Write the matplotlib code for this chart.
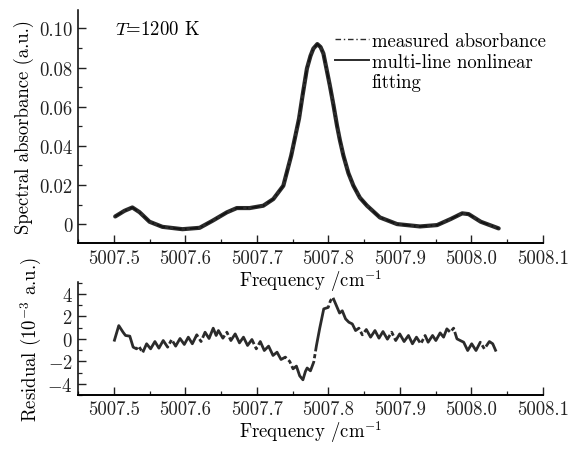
import matplotlib
matplotlib.use('Agg')
import matplotlib.pyplot as plt
from matplotlib.lines import Line2D
from matplotlib.ticker import MultipleLocator

plt.rcParams['font.family'] = 'cmr10'
plt.rcParams['mathtext.fontset'] = 'cm'
plt.rcParams['axes.unicode_minus'] = False
plt.rcParams['axes.formatter.use_mathtext'] = True

# spectral absorbance
freq = [5007.502, 5007.515, 5007.526, 5007.536, 5007.550, 5007.568, 5007.596,
        5007.620, 5007.638, 5007.658, 5007.672, 5007.690, 5007.709, 5007.723,
        5007.737, 5007.748, 5007.759, 5007.764, 5007.770, 5007.775, 5007.779,
        5007.7845, 5007.789, 5007.793, 5007.797, 5007.802, 5007.807, 5007.812,
        5007.816, 5007.821, 5007.828, 5007.835, 5007.844, 5007.854, 5007.872,
        5007.896, 5007.928, 5007.952, 5007.971, 5007.987, 5007.996, 5008.013,
        5008.038]
absorbance = [0.0039, 0.0068, 0.0085, 0.0061, 0.0012, -0.0014, -0.0026,
              -0.0019, 0.0017, 0.0060, 0.0082, 0.0082, 0.0094, 0.0128,
              0.0196, 0.0350, 0.0540, 0.0660, 0.0795, 0.0860, 0.0897,
              0.0920, 0.0905, 0.0872, 0.0800, 0.0709, 0.0610, 0.0504,
              0.0430, 0.0350, 0.0260, 0.0196, 0.0135, 0.0094, 0.0034,
              0.0000, -0.0012, -0.0005, 0.0026, 0.0055, 0.0051, 0.0012,
              -0.0022]
fitted = [0.0039, 0.0068, 0.0085, 0.0061, 0.0012, -0.0014, -0.0026,
          -0.0019, 0.0017, 0.0060, 0.0082, 0.0082, 0.0094, 0.0128,
          0.0196, 0.0350, 0.0540, 0.0660, 0.0795, 0.0860, 0.0897,
          0.0920, 0.0905, 0.0872, 0.0800, 0.0709, 0.0610, 0.0504,
          0.0430, 0.0350, 0.0260, 0.0196, 0.0135, 0.0094, 0.0034,
          0.0000, -0.0012, -0.0005, 0.0026, 0.0055, 0.0051, 0.0012,
          -0.0022]

# residual (1e-3 a.u.)
res_freq = [5007.5004, 5007.5070, 5007.5130, 5007.5164, 5007.5224, 5007.5271,
            5007.5318, 5007.5351, 5007.5403, 5007.5459, 5007.5515, 5007.5575,
            5007.5631, 5007.5691, 5007.5753, 5007.5809, 5007.5865, 5007.5926,
            5007.5986, 5007.6042, 5007.6098, 5007.6160, 5007.6220, 5007.6276,
            5007.6332, 5007.6390, 5007.6431, 5007.6463, 5007.6525, 5007.6581,
            5007.6637, 5007.6697, 5007.6757, 5007.6813, 5007.6870, 5007.6931,
            5007.6992, 5007.7048, 5007.7104, 5007.7164, 5007.7226, 5007.7282,
            5007.7338, 5007.7398, 5007.7459, 5007.7506, 5007.7553, 5007.7599,
            5007.7644, 5007.7679, 5007.7703, 5007.7749, 5007.7795, 5007.7833,
            5007.7879, 5007.7935, 5007.7997, 5007.8029, 5007.8062, 5007.8109,
            5007.8156, 5007.8194, 5007.8240, 5007.8286, 5007.8334, 5007.8380,
            5007.8426, 5007.8474, 5007.8530, 5007.8590, 5007.8651, 5007.8707,
            5007.8763, 5007.8825, 5007.8885, 5007.8941, 5007.8997, 5007.9058,
            5007.9119, 5007.9175, 5007.9231, 5007.9292, 5007.9352, 5007.9394,
            5007.9456, 5007.9502, 5007.9562, 5007.9610, 5007.9656, 5007.9703,
            5007.9750, 5007.9797, 5007.9843, 5007.9891, 5007.9947, 5008.0003,
            5008.0063, 5008.0123, 5008.0180, 5008.0250, 5008.0297, 5008.0344]
residual = [-0.24, 1.18, 0.59, 0.30, 0.24, -0.74,
            -0.89, -0.65, -1.24, -0.44, -0.89, -0.24,
            -0.83, -0.15, -0.74, -0.06, -0.65, 0.03,
            -0.50, 0.15, -0.44, 0.36, -0.24, 0.59,
            0.03, 0.95, 0.30, 0.74, 0.06, 0.59,
            -0.15, 0.44, -0.36, 0.15, -0.59, -0.06,
            -0.89, -0.24, -1.04, -0.65, -1.48, -1.19,
            -1.84, -1.63, -2.01, -2.67, -2.43, -3.30,
            -3.65, -2.90, -2.60, -2.85, -2.07, -0.60,
            0.95, 2.67, 2.80, 3.40, 3.70, 3.00,
            2.30, 2.50, 1.78, 1.48, 1.33, 0.74,
            0.95, 0.36, 0.83, 0.15, 0.74, 0.06,
            0.65, -0.03, 0.59, -0.15, 0.44, -0.24,
            0.30, -0.44, 0.15, -0.44, 0.30, -0.30,
            0.30, -0.15, 0.53, 0.15, 0.89, 0.59,
            0.95, 0.00, -0.15, -0.30, -1.04, -0.44,
            -1.04, -0.30, -0.89, -0.24, -0.44, -1.13]

ink = '#2b2b2b'
fs = 13.5

fig = plt.figure(figsize=(5.71, 4.52), dpi=100)
ax1 = fig.add_axes([0.1366, 0.460, 0.8144, 0.516])
ax2 = fig.add_axes([0.1366, 0.124, 0.8144, 0.250])
ax2.patch.set_visible(False)
ax1.set_zorder(3)

# top panel: measured and fitted absorbance
ax1.plot(freq, fitted, color=ink, lw=3.0, solid_capstyle='round',
         solid_joinstyle='round')
ax1.plot(freq, absorbance, color='#111111', lw=1.2, linestyle=(0, (5, 2, 1, 2)))
ax1.set_xlim(5007.45, 5008.1)
ax1.set_ylim(-0.0097, 0.1095)
ax1.set_yticks([0, 0.02, 0.04, 0.06, 0.08, 0.10])
ax1.set_yticklabels(['0', '0.02', '0.04', '0.06', '0.08', '0.10'])
ax1.yaxis.set_minor_locator(MultipleLocator(0.01))
ax1.set_ylabel('Spectral absorbance (a.u.)', fontsize=fs, labelpad=4)
ax1.text(0.08, 0.918, '$T$=1200 K', transform=ax1.transAxes, fontsize=fs,
         va='center', ha='left')

handles = [Line2D([], [], color=ink, lw=1.0, linestyle=(0, (4, 2, 1, 2))),
           Line2D([], [], color=ink, lw=1.4),
           Line2D([], [], color='none')]
labels = ['measured absorbance', 'multi-line nonlinear', 'fitting']
ax1.legend(handles, labels, loc='upper left', bbox_to_anchor=(0.553, 0.905),
           frameon=False, fontsize=fs, handlelength=1.8, handletextpad=0.15,
           labelspacing=0.15, borderpad=0, borderaxespad=0)

# bottom panel: residual
ax2.plot(res_freq, residual, color=ink, lw=2.0,
         linestyle=(0, (18, 1.0, 1.5, 1.0)), solid_joinstyle='round')
ax2.set_xlim(5007.45, 5008.1)
ax2.set_ylim(-5, 5.07)
ax2.set_yticks([-4, -2, 0, 2, 4])
ax2.yaxis.set_minor_locator(MultipleLocator(1))
ax2.set_ylabel('Residual (10$^{-3}$ a.u.)', fontsize=fs, labelpad=2)

for ax in (ax1, ax2):
    ax.set_xticks([5007.5, 5007.6, 5007.7, 5007.8, 5007.9, 5008.0, 5008.1])
    ax.set_xticklabels(['5007.5', '5007.6', '5007.7', '5007.8', '5007.9',
                        '5008.0', '5008.1'])
    ax.xaxis.set_minor_locator(MultipleLocator(0.05))
    ax.set_xlabel('Frequency /cm$^{-1}$', fontsize=fs, labelpad=0)
    ax.spines['top'].set_visible(False)
    ax.spines['right'].set_visible(False)
    ax.spines['left'].set_linewidth(1.1)
    ax.spines['bottom'].set_linewidth(1.4)
    ax.tick_params(which='major', direction='in', length=6, width=1.0,
                   labelsize=fs, pad=4, colors='#222222')
    ax.tick_params(which='minor', direction='in', length=3, width=0.9,
                   colors='#222222')

fig.savefig('out.png', dpi=100)
